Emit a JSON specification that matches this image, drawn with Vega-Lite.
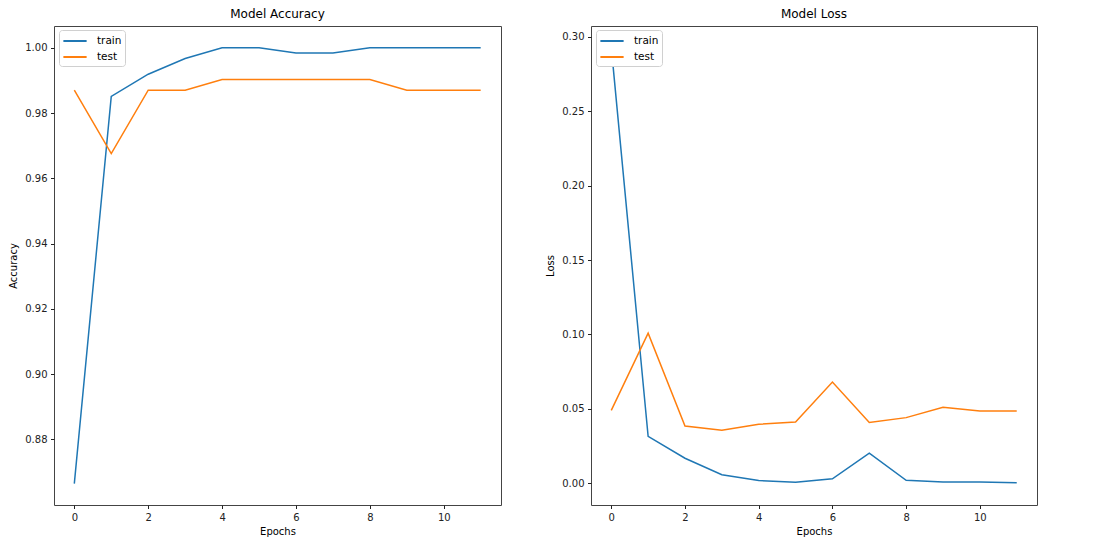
{
  "$schema": "https://vega.github.io/schema/vega-lite/v6.json",
  "background": "white",
  "padding": {"left": 8, "top": 7, "right": 5, "bottom": 5},
  "bounds": "flush",
  "spacing": 90,
  "config": {
    "font": "DejaVu Sans",
    "view": {"stroke": "#444", "strokeWidth": 1},
    "axis": {
      "domain": false,
      "grid": false,
      "ticks": true,
      "tickSize": 3.5,
      "tickColor": "#222",
      "labelFont": "DejaVu Sans",
      "labelFontSize": 10,
      "labelColor": "#222",
      "labelPadding": 3.5,
      "titleFont": "DejaVu Sans",
      "titleFontSize": 10,
      "titleFontWeight": "normal",
      "titleColor": "#000"
    },
    "title": {"font": "DejaVu Sans", "fontSize": 12, "fontWeight": "normal", "color": "#000", "offset": 5},
    "legend": {
      "orient": "none",
      "legendX": 5,
      "legendY": 4,
      "title": null,
      "fillColor": "white",
      "strokeColor": "#d0d0d0",
      "cornerRadius": 3,
      "padding": 3,
      "symbolType": "M-1.66,0H1.66",
      "symbolSize": 196,
      "symbolOffset": 5,
      "symbolStrokeWidth": 2,
      "labelFont": "DejaVu Sans",
      "labelFontSize": 10.5,
      "labelColor": "#000",
      "labelOffset": 14,
      "rowPadding": 2
    }
  },
  "datasets": {
    "hist": [
      {"epoch": 0, "set": "train", "accuracy": 0.8665, "loss": 0.2931},
      {"epoch": 1, "set": "train", "accuracy": 0.9851, "loss": 0.0315},
      {"epoch": 2, "set": "train", "accuracy": 0.9919, "loss": 0.0168},
      {"epoch": 3, "set": "train", "accuracy": 0.9967, "loss": 0.0057},
      {"epoch": 4, "set": "train", "accuracy": 1.0, "loss": 0.0018},
      {"epoch": 5, "set": "train", "accuracy": 1.0, "loss": 0.0007},
      {"epoch": 6, "set": "train", "accuracy": 0.9984, "loss": 0.003},
      {"epoch": 7, "set": "train", "accuracy": 0.9984, "loss": 0.0202},
      {"epoch": 8, "set": "train", "accuracy": 1.0, "loss": 0.002},
      {"epoch": 9, "set": "train", "accuracy": 1.0, "loss": 0.0009},
      {"epoch": 10, "set": "train", "accuracy": 1.0, "loss": 0.0008},
      {"epoch": 11, "set": "train", "accuracy": 1.0, "loss": 0.0004},
      {"epoch": 0, "set": "test", "accuracy": 0.987, "loss": 0.049},
      {"epoch": 1, "set": "test", "accuracy": 0.9676, "loss": 0.1009},
      {"epoch": 2, "set": "test", "accuracy": 0.987, "loss": 0.0384},
      {"epoch": 3, "set": "test", "accuracy": 0.987, "loss": 0.0357},
      {"epoch": 4, "set": "test", "accuracy": 0.9903, "loss": 0.0396},
      {"epoch": 5, "set": "test", "accuracy": 0.9903, "loss": 0.0411},
      {"epoch": 6, "set": "test", "accuracy": 0.9903, "loss": 0.068},
      {"epoch": 7, "set": "test", "accuracy": 0.9903, "loss": 0.0409},
      {"epoch": 8, "set": "test", "accuracy": 0.9903, "loss": 0.0441},
      {"epoch": 9, "set": "test", "accuracy": 0.987, "loss": 0.051},
      {"epoch": 10, "set": "test", "accuracy": 0.987, "loss": 0.0485},
      {"epoch": 11, "set": "test", "accuracy": 0.987, "loss": 0.0485}
    ]
  },
  "resolve": {"scale": {"color": "independent", "y": "independent"}, "legend": {"color": "independent"}},
  "hconcat": [
    {
      "width": 447,
      "height": 479,
      "title": "Model Accuracy",
      "data": {"name": "hist"},
      "mark": {"type": "line", "strokeWidth": 1.5},
      "encoding": {
        "x": {"field": "epoch", "type": "quantitative", "title": "Epochs",
              "scale": {"domain": [-0.55, 11.55], "nice": false, "zero": false},
              "axis": {"values": [0, 2, 4, 6, 8, 10], "titlePadding": 4}},
        "y": {"field": "accuracy", "type": "quantitative", "title": "Accuracy",
              "scale": {"domain": [0.85993, 1.00667], "nice": false, "zero": false},
              "axis": {"values": [0.88, 0.9, 0.92, 0.94, 0.96, 0.98, 1.0], "format": ".2f", "titlePadding": 6}},
        "color": {"field": "set", "type": "nominal",
                  "scale": {"domain": ["train", "test"], "range": ["#1f77b4", "#ff7f0e"]},
                  "sort": ["train", "test"]}
      }
    },
    {
      "width": 446,
      "height": 479,
      "title": "Model Loss",
      "data": {"name": "hist"},
      "mark": {"type": "line", "strokeWidth": 1.5},
      "encoding": {
        "x": {"field": "epoch", "type": "quantitative", "title": "Epochs",
              "scale": {"domain": [-0.55, 11.55], "nice": false, "zero": false},
              "axis": {"values": [0, 2, 4, 6, 8, 10], "titlePadding": 4}},
        "y": {"field": "loss", "type": "quantitative", "title": "Loss",
              "scale": {"domain": [-0.01463, 0.30733], "nice": false, "zero": false},
              "axis": {"values": [0, 0.05, 0.1, 0.15, 0.2, 0.25, 0.3], "format": ".2f", "titlePadding": 6}},
        "color": {"field": "set", "type": "nominal",
                  "scale": {"domain": ["train", "test"], "range": ["#1f77b4", "#ff7f0e"]},
                  "sort": ["train", "test"]}
      }
    }
  ]
}
